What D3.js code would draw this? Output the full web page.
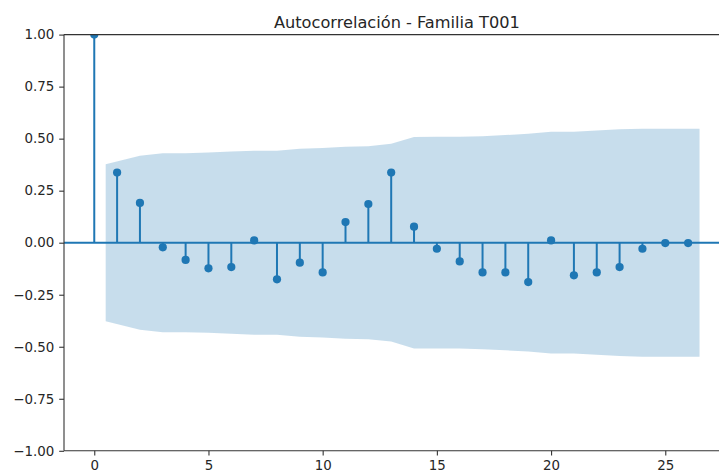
<!DOCTYPE html>
<html>
<head>
<meta charset="utf-8">
<script src="https://cdn.jsdelivr.net/npm/d3@7"></script>
<style>
  html, body { margin: 0; padding: 0; background: #fff; }
  svg { display: block; font-family: "DejaVu Sans", sans-serif; }
</style>
</head>
<body>
<svg id="chart" width="719" height="476"></svg>
<script>
// Autocorrelation values for lags 0..26
const lags = d3.range(0, 27);
const acfValues = [1.0, 0.337, 0.191, -0.022, -0.083, -0.123, -0.117, 0.011, -0.176, -0.096,
  -0.143, 0.099, 0.186, 0.337, 0.077, -0.029, -0.090, -0.143, -0.143, -0.189,
  0.011, -0.157, -0.143, -0.117, -0.029, -0.002, -0.002];
// Half-width of the 95% confidence band for lags 1..26
const bandLags = d3.range(1, 27);
const bandHalfWidth = [0.377, 0.418, 0.430, 0.430, 0.433, 0.438, 0.442, 0.442, 0.452, 0.455,
  0.461, 0.464, 0.475, 0.508, 0.509, 0.509, 0.512, 0.517, 0.523, 0.533,
  0.533, 0.539, 0.545, 0.548, 0.548, 0.548];
const xTicks = [0, 5, 10, 15, 20, 25];
const yTicks = [-1.0, -0.75, -0.5, -0.25, 0.0, 0.25, 0.5, 0.75, 1.0];
const title = "Autocorrelación - Familia T001";

const blue = "#1f77b4";
const svg = d3.select("#chart");

const axL = 64, axR = 729.8, axT = 34.6, axB = 450.8;
const x = d3.scaleLinear().domain([-1.325, 27.825]).range([axL, axR]);
const y = d3.scaleLinear().domain([-1, 1]).range([axB, axT]);

svg.append("defs").append("clipPath").attr("id", "plotClip")
  .append("rect").attr("x", axL).attr("y", axT)
  .attr("width", axR - axL).attr("height", axB - axT);

const plot = svg.append("g").attr("clip-path", "url(#plotClip)");

// confidence band: first and last lag edges pushed out by half a step
const bandX = bandLags.map((l, i) => i === 0 ? l - 0.5 : (i === bandLags.length - 1 ? l + 0.5 : l));
const bandData = bandX.map((bx, i) => ({ x: bx, h: bandHalfWidth[i] }));
plot.append("path")
  .datum(bandData)
  .attr("fill", blue)
  .attr("fill-opacity", 0.25)
  .attr("d", d3.area().x(d => x(d.x)).y0(d => y(-d.h)).y1(d => y(d.h)));

// stems
plot.selectAll("line.stem").data(lags).join("line")
  .attr("class", "stem")
  .attr("x1", d => x(d)).attr("x2", d => x(d))
  .attr("y1", y(0)).attr("y2", d => y(acfValues[d]))
  .attr("stroke", blue).attr("stroke-width", 2);

// zero line
plot.append("line")
  .attr("x1", axL).attr("x2", axR)
  .attr("y1", y(0)).attr("y2", y(0))
  .attr("stroke", blue).attr("stroke-width", 2);

// markers
plot.selectAll("circle.pt").data(lags).join("circle")
  .attr("class", "pt")
  .attr("cx", d => x(d)).attr("cy", d => y(acfValues[d]))
  .attr("r", 4.1)
  .attr("fill", blue);

// axes
const fmt = v => d3.format(".2f")(v).replace("-", "\u2212");
const yAxis = svg.append("g").attr("transform", `translate(${axL},0)`)
  .call(d3.axisLeft(y).tickValues(yTicks).tickFormat(fmt).tickSize(4.8).tickPadding(5));
const xAxis = svg.append("g").attr("transform", `translate(0,${axB})`)
  .call(d3.axisBottom(x).tickValues(xTicks).tickFormat(d3.format("d")).tickSize(4.8).tickPadding(4.5));

[yAxis, xAxis].forEach(g => {
  g.select(".domain").remove();
  g.selectAll(".tick line").attr("stroke", "#333").attr("stroke-width", 1.1);
  g.selectAll(".tick text").attr("fill", "#262626")
    .style("font-family", "'DejaVu Sans', sans-serif").style("font-size", "13.4px");
});

// spines: left, top, bottom (right spine lies beyond the visible width)
const spine = svg.append("g").attr("stroke", "#333").attr("stroke-width", 1.1).attr("fill", "none");
spine.append("line").attr("x1", axL).attr("x2", axL).attr("y1", axT).attr("y2", axB);
spine.append("line").attr("x1", axL).attr("x2", axR).attr("y1", axT).attr("y2", axT);
spine.append("line").attr("x1", axL).attr("x2", axR).attr("y1", axB).attr("y2", axB);
spine.append("line").attr("x1", axR).attr("x2", axR).attr("y1", axT).attr("y2", axB);

// title
svg.append("text")
  .attr("x", (axL + axR) / 2).attr("y", 28)
  .attr("text-anchor", "middle")
  .attr("fill", "#262626")
  .style("font-size", "16.2px")
  .text(title);
</script>
</body>
</html>
